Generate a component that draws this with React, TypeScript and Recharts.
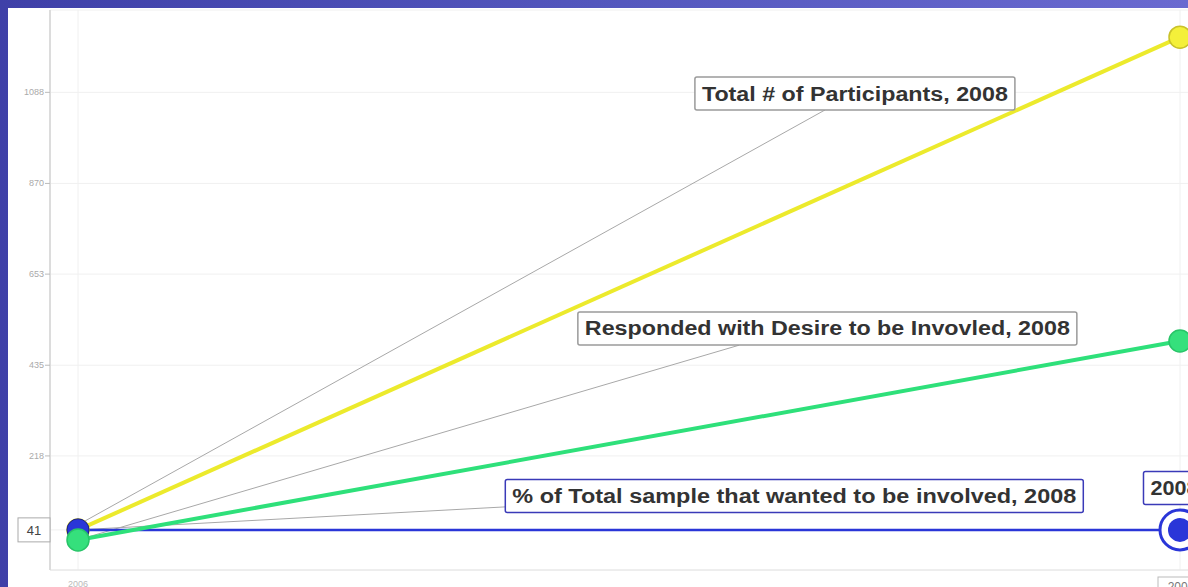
import { CartesianGrid, LineChart, Line, ReferenceDot, ReferenceLine, XAxis, YAxis } from "recharts";

const years = [2006, 2008];
const participants = [41, 1220];
const desire = [17, 493];
const percentInvolved = [41, 41];
const yTicks = [41, 218, 435, 653, 870, 1088];
const yTickLabels = ["41", "218", "435", "653", "870", "1088"];

const annotationTexts = [
  "Total # of Participants, 2008",
  "Responded with Desire to be Invovled, 2008",
  "% of Total sample that wanted to be involved, 2008",
  "2008",
];
const annotationCenters = [
  { x: 2007.41, y: 1085 },
  { x: 2007.36, y: 523 },
  { x: 2007.3, y: 122 },
  { x: 2007.99, y: 141 },
];
const leaderEnds = [
  { x: 2007.356, y: 1046 },
  { x: 2007.2, y: 483 },
  { x: 2006.775, y: 96 },
];
const leaderStarts = [participants[0] + 12, desire[0], percentInvolved[0]];

const YELLOW = "#ecea2c";
const GREEN = "#2ee07a";
const BLUE = "#2a36d8";
const BOX_WIDTHS = [320, 499, 578, 62];
const BOX_BORDERS = ["#9a9a9a", "#9a9a9a", "#3a3ab8", "#3a3ab8"];

const data = years.map((year, i) => ({
  year,
  participants: participants[i],
  desire: desire[i],
  percentInvolved: percentInvolved[i],
}));

function AnnotationBox(props: any) {
  const { cx, cy, text, width, border } = props;
  if (cx == null || cy == null) return null;
  const h = 33;
  return (
    <g>
      <rect
        x={cx - width / 2}
        y={cy - h / 2}
        width={width}
        height={h}
        fill="#fff"
        stroke={border}
        strokeWidth={1.5}
        rx={2}
      />
      <text
        x={cx}
        y={cy + 7}
        textAnchor="middle"
        textLength={width - 14}
        lengthAdjust="spacingAndGlyphs"
        fontFamily="'Liberation Sans', Arial, sans-serif"
        fontWeight="bold"
        fontSize={20}
        fill="#333"
      >
        {text}
      </text>
    </g>
  );
}

function YTick(props: any) {
  const { x, y, payload, index } = props;
  const label = yTickLabels[index] ?? String(payload.value);
  if (payload.value === percentInvolved[0]) {
    return (
      <g>
        <rect x={x - 24} y={y - 12} width={32} height={24} fill="#fff" stroke="#aaa" strokeWidth={1} />
        <text x={x - 8} y={y + 5} textAnchor="middle" fontFamily="'Liberation Sans', Arial" fontSize={13} fill="#444">
          {label}
        </text>
      </g>
    );
  }
  return (
    <g>
      <line x1={x + 3} x2={x + 8} y1={y} y2={y} stroke="#bbb" />
      <text x={x + 2} y={y + 3} textAnchor="end" fontFamily="'Liberation Sans', Arial" fontSize={9} fill="#aaa">
        {label}
      </text>
    </g>
  );
}

function XTick(props: any) {
  const { x, y, payload } = props;
  if (payload.value === years[1]) {
    return (
      <g>
        <rect x={x - 22} y={y - 1} width={46} height={24} fill="#fff" stroke="#bbb" />
        <text x={x + 1} y={y + 13} textAnchor="middle" fontFamily="'Liberation Sans', Arial" fontSize={12} fill="#777">
          {payload.value}
        </text>
      </g>
    );
  }
  return (
    <text x={x} y={y + 9} textAnchor="middle" fontFamily="'Liberation Sans', Arial" fontSize={9} fill="#bbb">
      {payload.value}
    </text>
  );
}

function plainDot(color: string, outline: string) {
  return (p: any) => (
    <circle key={`d-${color}-${p.index}`} cx={p.cx} cy={p.cy} r={11} fill={color} stroke={outline} strokeWidth={1.5} />
  );
}

function blueDot(p: any) {
  if (p.index === 1) {
    return (
      <g key={`b-${p.index}`}>
        <circle cx={p.cx} cy={p.cy} r={20} fill="#fff" stroke={BLUE} strokeWidth={3} />
        <circle cx={p.cx} cy={p.cy} r={12} fill={BLUE} />
      </g>
    );
  }
  return <circle key={`b-${p.index}`} cx={p.cx} cy={p.cy} r={11} fill={BLUE} stroke="#1a228a" strokeWidth={1} />;
}

export default function App() {
  return (
    <div
      style={{
        position: "absolute",
        left: 0,
        top: 0,
        width: 1188,
        height: 587,
        overflow: "hidden",
        background: "linear-gradient(90deg, #3f40a8 0%, #5356bd 50%, #6a6ad0 100%)",
      }}
    >
      <div
        style={{
          position: "absolute",
          left: 8,
          top: 8,
          width: 1180,
          height: 579,
          background: "#fff",
        }}
      />
      <div style={{ position: "absolute", left: 0, top: 0 }}>
        <LineChart width={1230} height={600} data={data} margin={{ top: 10, right: 20, bottom: 0, left: 0 }}>
          <CartesianGrid stroke="#f0f0f0" />
          <XAxis
            dataKey="year"
            type="number"
            domain={[2006, 2008]}
            ticks={years}
            padding={{ left: 28, right: 30 }}
            height={30}
            axisLine={{ stroke: "#e4e4e4" }}
            tickLine={false}
            tick={<XTick />}
          />
          <YAxis
            type="number"
            domain={[-55, 1285]}
            ticks={yTicks}
            width={50}
            axisLine={{ stroke: "#dcdcdc", strokeWidth: 2 }}
            tickLine={false}
            tick={<YTick />}
          />
          {leaderEnds.map((end, i) => (
            <ReferenceLine
              key={`leader-${i}`}
              segment={[
                { x: years[0], y: leaderStarts[i] },
                { x: end.x, y: end.y },
              ]}
              stroke="#a8a8a8"
              strokeWidth={1}
              ifOverflow="visible"
            />
          ))}
          <Line
            dataKey="participants"
            stroke={YELLOW}
            strokeWidth={4}
            dot={plainDot("#f4f03a", "#c9c22a")}
            isAnimationActive={false}
          />
          <Line
            dataKey="percentInvolved"
            stroke={BLUE}
            strokeWidth={2.5}
            dot={blueDot}
            isAnimationActive={false}
          />
          <Line
            dataKey="desire"
            stroke={GREEN}
            strokeWidth={4}
            dot={plainDot("#35e07c", "#28c468")}
            isAnimationActive={false}
          />
          {annotationCenters.map((c, i) => (
            <ReferenceDot
              key={`ann-${i}`}
              x={c.x}
              y={c.y}
              r={0}
              ifOverflow="visible"
              shape={(p: any) => (
                <AnnotationBox {...p} text={annotationTexts[i]} width={BOX_WIDTHS[i]} border={BOX_BORDERS[i]} />
              )}
            />
          ))}
        </LineChart>
      </div>
    </div>
  );
}
